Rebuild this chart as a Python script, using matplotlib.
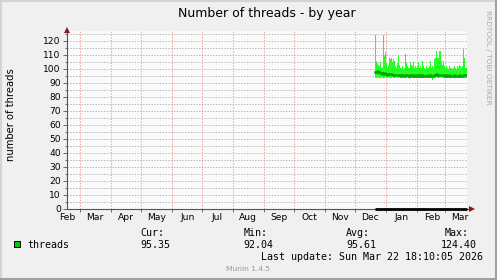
import matplotlib
matplotlib.use("Agg")
import matplotlib.pyplot as plt
from datetime import datetime, timedelta

# ---------------- data ----------------
title = "Number of threads - by year"
ylabel = "number of threads"
end_time = datetime(2026, 3, 22, 18, 10, 5)
span_days = 400
data_start = datetime(2025, 12, 20, 18, 0)

max_vals = [124, 106, 104, 103, 102, 105, 101, 101, 124, 109,
            112, 104, 101, 102, 108, 107, 108, 105, 107, 106,
            102, 101, 104, 110, 103, 101, 101, 102, 100, 101,
            111, 104, 102, 101, 101, 105, 103, 102, 105, 101,
            102, 101, 102, 105, 101, 102, 101, 106, 102, 101,
            100, 102, 101, 101, 102, 106, 101, 102, 101, 107,
            108, 113, 108, 108, 113, 113, 106, 103, 106, 102,
            101, 102, 101, 100, 102, 101, 101, 100, 101, 102,
            101, 100, 102, 101, 103, 102, 101, 102, 114, 108,
            101, 101]
min_vals = [93.8, 93.6, 93.9, 93.7, 93.8, 93.5, 93.9, 93.8, 93.6, 93.7,
            93.9, 93.8, 93.6, 93.9, 93.7, 93.8, 93.5, 93.9, 93.8, 93.7,
            93.6, 93.9, 93.8, 93.7, 93.9, 93.6, 93.8, 93.7, 93.9, 93.8,
            93.6, 93.7, 93.9, 93.8, 92.9, 93.7, 93.8, 93.6, 93.9, 93.7,
            93.8, 93.9, 93.6, 93.8, 93.7, 93.9, 93.8, 93.6, 93.7, 93.9,
            93.8, 93.7, 93.6, 93.9, 93.8, 93.7, 93.9, 92.04, 93.8, 93.6,
            93.7, 93.9, 93.8, 93.7, 93.6, 93.8, 93.9, 93.7, 93.8, 93.6,
            93.9, 93.7, 93.8, 93.6, 93.9, 93.8, 93.7, 93.9, 93.6, 93.8,
            93.7, 93.9, 93.8, 93.6, 93.7, 93.9, 93.8, 93.7, 93.6, 93.8,
            93.7, 93.8]
avg_vals = [98.0, 97.8, 98.2, 97.6, 97.5, 97.2, 96.8, 96.6, 97.0, 96.9,
            96.7, 96.2, 95.9, 96.3, 96.6, 96.4, 96.1, 95.8, 96.0, 95.7,
            95.6, 95.4, 95.8, 95.9, 95.5, 95.3, 95.4, 95.6, 95.2, 95.3,
            95.8, 95.6, 95.4, 95.3, 95.1, 95.5, 95.4, 95.3, 95.6, 95.2,
            95.3, 95.4, 95.2, 95.5, 95.3, 95.4, 95.2, 95.6, 95.3, 95.2,
            95.1, 95.3, 95.4, 95.2, 95.3, 95.7, 95.3, 95.1, 95.2, 95.6,
            95.8, 96.1, 95.9, 95.8, 96.0, 95.9, 95.6, 95.4, 95.5, 95.3,
            95.2, 95.4, 95.3, 95.2, 95.4, 95.3, 95.2, 95.1, 95.3, 95.4,
            95.2, 95.1, 95.3, 95.2, 95.4, 95.3, 95.2, 95.3, 95.9, 95.6,
            95.4, 95.35]

month_labels = ["Feb", "Mar", "Apr", "May", "Jun", "Jul", "Aug", "Sep",
                "Oct", "Nov", "Dec", "Jan", "Feb", "Mar"]
first_label_month = (2025, 2)

y_max = 127.1
y_major = [0, 10, 20, 30, 40, 50, 60, 70, 80, 90, 100, 110, 120]
y_minor = [5, 15, 25, 35, 45, 55, 65, 75, 85, 95, 105, 115, 125]

legend_name = "threads"
stat_heads = ["Cur:", "Min:", "Avg:", "Max:"]
stat_vals = ["95.35", "92.04", "95.61", "124.40"]
last_update = "Last update: Sun Mar 22 18:10:05 2026"
footer = "Munin 1.4.5"
side_text = "RRDTOOL / TOBI OETIKER"

# ---------------- figure ----------------
W, H = 497, 280
fig = plt.figure(figsize=(W / 100, H / 100), dpi=100, facecolor="#f0f0f0")


def px(x, y):
    return x / W, 1 - y / H


# 3D frame
fig.add_artist(plt.Line2D([0, 1], [1 - 1 / H, 1 - 1 / H], color="#d4d4d4", lw=1.5))
fig.add_artist(plt.Line2D([1 / W, 1 / W], [0, 1], color="#d4d4d4", lw=1.5))
fig.add_artist(plt.Line2D([0, 1], [1.5 / H, 1.5 / H], color="#a0a0a0", lw=2.2))
fig.add_artist(plt.Line2D([1 - 1.5 / W, 1 - 1.5 / W], [0, 1], color="#a0a0a0", lw=2.2))

left, right, bottom_px, top_px = 67, 467, 209, 31
ax = fig.add_axes([left / W, 1 - bottom_px / H, (right - left) / W,
                   (bottom_px - top_px) / H])
ax.set_facecolor("#fafafa")

x0 = end_time - timedelta(days=span_days)
ax.set_xlim(x0, end_time)
ax.set_ylim(0, y_max)

# grid
dot = (0, (1.4, 1.4))
for v in y_minor:
    ax.axhline(v, color="#b8b8b8", lw=0.72, ls=dot, zorder=0)
for v in y_major[1:]:
    ax.axhline(v, color="#f4a0a0", lw=0.72, ls=dot, zorder=0)

month_starts = []
label_pos = []
y, m = first_label_month
for i in range(len(month_labels)):
    label_pos.append(datetime(y, m, 16))
    m += 1
    if m > 12:
        m = 1
        y += 1
    month_starts.append(datetime(y, m, 1))
for d in month_starts:
    if x0 < d < end_time:
        ax.axvline(d, color="#f4a0a0", lw=0.72, ls=dot, zorder=0)

# data
dates = [data_start + timedelta(days=i) for i in range(len(max_vals))]
xd = dates + [end_time]
mx = max_vals + [max_vals[-1]]
mn = min_vals + [min_vals[-1]]
av = avg_vals + [avg_vals[-1]]
ax.fill_between(xd, mn, mx, step="post", color="#22ff22", lw=0, zorder=2,
                antialiased=False)
ax.step(xd, av, where="post", color="#00a800", lw=1.8, zorder=3)
ax.plot([dates[0], end_time], [0, 0], color="black", lw=2.0, zorder=4,
        solid_capstyle="butt", clip_on=False)

# axes lines and arrows
for s in ["top", "right", "left", "bottom"]:
    ax.spines[s].set_visible(False)
ax.plot([0, 0], [0, 1.0 + 1 / (bottom_px - top_px)], transform=ax.transAxes,
        color="#555555", lw=0.8, clip_on=False, zorder=5)
ax.plot([0, 1 + 4 / (right - left)], [0, 0], transform=ax.transAxes,
        color="#555555", lw=0.8, clip_on=False, zorder=3)
ax.plot([0], [1 + 1.5 / (bottom_px - top_px)], marker="^", ms=4.2, color="#8b1a1a",
        transform=ax.transAxes, clip_on=False, zorder=6, mew=0)
ax.plot([1 + 4.5 / (right - left)], [0], marker=">", ms=4.2, color="#8b1a1a",
        transform=ax.transAxes, clip_on=False, zorder=6, mew=0)

# ticks
ax.set_yticks(y_major)
ax.set_yticklabels([str(v) for v in y_major])
ax.set_yticks(y_minor, minor=True)
ax.tick_params(axis="y", which="major", length=3, width=0.6, color="#555555",
               labelsize=6.6, pad=1.5, labelcolor="black")
ax.tick_params(axis="y", which="minor", length=1.5, width=0.6, color="#555555")

ax.set_xticks([d for d in month_starts if x0 < d < end_time])
ax.set_xticklabels([])
ax.set_xticks(label_pos, minor=True)
ax.set_xticklabels(month_labels, minor=True)
ax.tick_params(axis="x", which="major", length=2.5, width=0.6, color="#555555")
ax.tick_params(axis="x", which="minor", length=0, labelsize=6.6, pad=3,
               labelcolor="black")

# texts
fig.text(*px(267, 13), title, ha="center", va="center", fontsize=9,
         family="DejaVu Sans")
fig.text(*px(11, 115), ylabel, ha="center", va="center", rotation=90,
         fontsize=7.2, family="DejaVu Sans")
fig.text(*px(488, 57), side_text, ha="center", va="center", rotation=270,
         fontsize=5.3, color="#a8a8a8", family="DejaVu Sans")

mono = "DejaVu Sans Mono"
fig.patches.append(plt.Rectangle(px(14, 247), 6 / W, 6 / H, transform=fig.transFigure,
                                 facecolor="#00cc00", edgecolor="black", lw=0.7))
fig.text(*px(27, 245), legend_name, ha="left", va="center", fontsize=7.2, family=mono)
head_x = [140, 244, 346, 469]
val_x = [170, 273, 376, 477]
for hx, h in zip(head_x[:3], stat_heads[:3]):
    fig.text(*px(hx, 233), h, ha="left", va="center", fontsize=7.2, family=mono)
fig.text(*px(head_x[3], 233), stat_heads[3], ha="right", va="center", fontsize=7.2,
         family=mono)
for vx, v in zip(val_x, stat_vals):
    fig.text(*px(vx, 245), v, ha="right", va="center", fontsize=7.2, family=mono)
fig.text(*px(483, 257), last_update, ha="right", va="center", fontsize=7.2, family=mono)
fig.text(*px(248, 269), footer, ha="center", va="center", fontsize=5.4,
         color="#999999", family="DejaVu Sans")

fig.savefig("out.png", dpi=100, facecolor=fig.get_facecolor())
